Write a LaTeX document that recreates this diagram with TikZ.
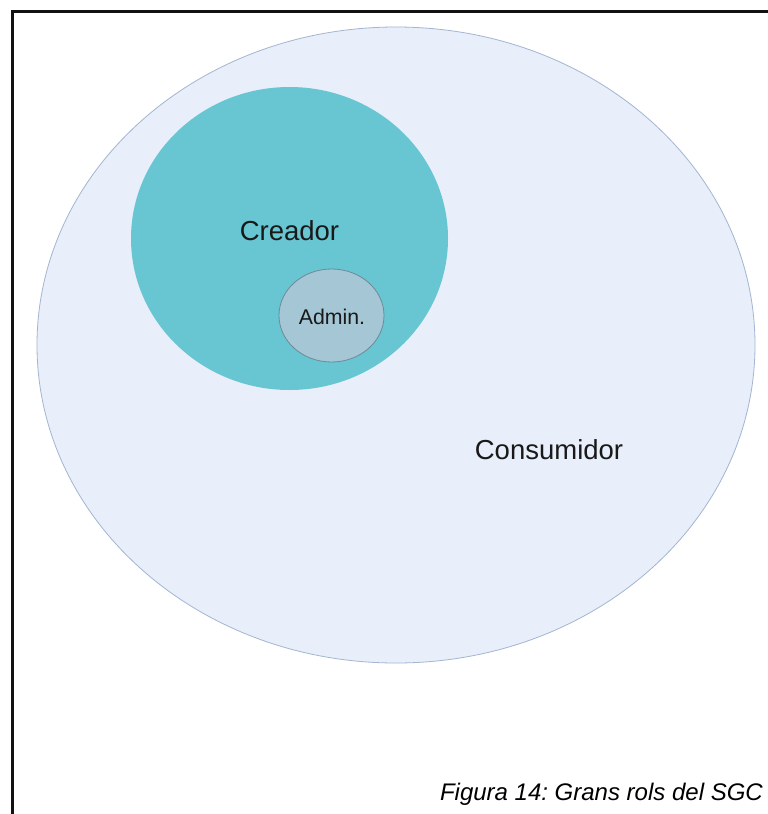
\documentclass[tikz,border=0pt]{standalone}
\usepackage{fontspec}
\setmainfont{Liberation Sans}
\frenchspacing
\definecolor{consfill}{HTML}{E8EFFA}
\definecolor{consdraw}{HTML}{A3B5D0}
\definecolor{creafill}{HTML}{67C6D2}
\definecolor{admfill}{HTML}{A5C6D5}
\definecolor{admdraw}{HTML}{6E8A99}
\definecolor{framecol}{HTML}{111111}
\tikzset{
  lbl/.style={inner sep=0pt, anchor=base, text=black!90},
  rolearea/.style={line width=0.8pt},
}
\begin{document}
\begin{tikzpicture}[x=1pt,y=-1pt]
\useasboundingbox (0,0) rectangle (768,814);
\fill[white] (0,0) rectangle (768,814);
\draw[framecol, line width=3pt] (12.5,814) -- (12.5,11.5) -- (768,11.5);
\draw[rolearea, fill=consfill, draw=consdraw] (396,345) ellipse [x radius=359, y radius=318];
\fill[creafill] (289.5,238.5) ellipse [x radius=158.5, y radius=151.5];
\draw[rolearea, fill=admfill, draw=admdraw] (331.5,315.5) ellipse [x radius=52.5, y radius=46.5];
\node[lbl, font=\fontsize{27.5}{32}\selectfont] (creador) at (289.5,240) {Creador};
\node[lbl, font=\fontsize{21.3}{25}\selectfont] (admin) at (332,324) {Admin.};
\node[lbl, font=\fontsize{27.5}{32}\selectfont] (consumidor) at (549,459) {Consumidor};
\node[lbl, anchor=base east, font=\fontsize{24}{28}\selectfont\itshape, text=black] (caption) at (763,800) {Figura 14: Grans rols del SGC};
\end{tikzpicture}
\end{document}
